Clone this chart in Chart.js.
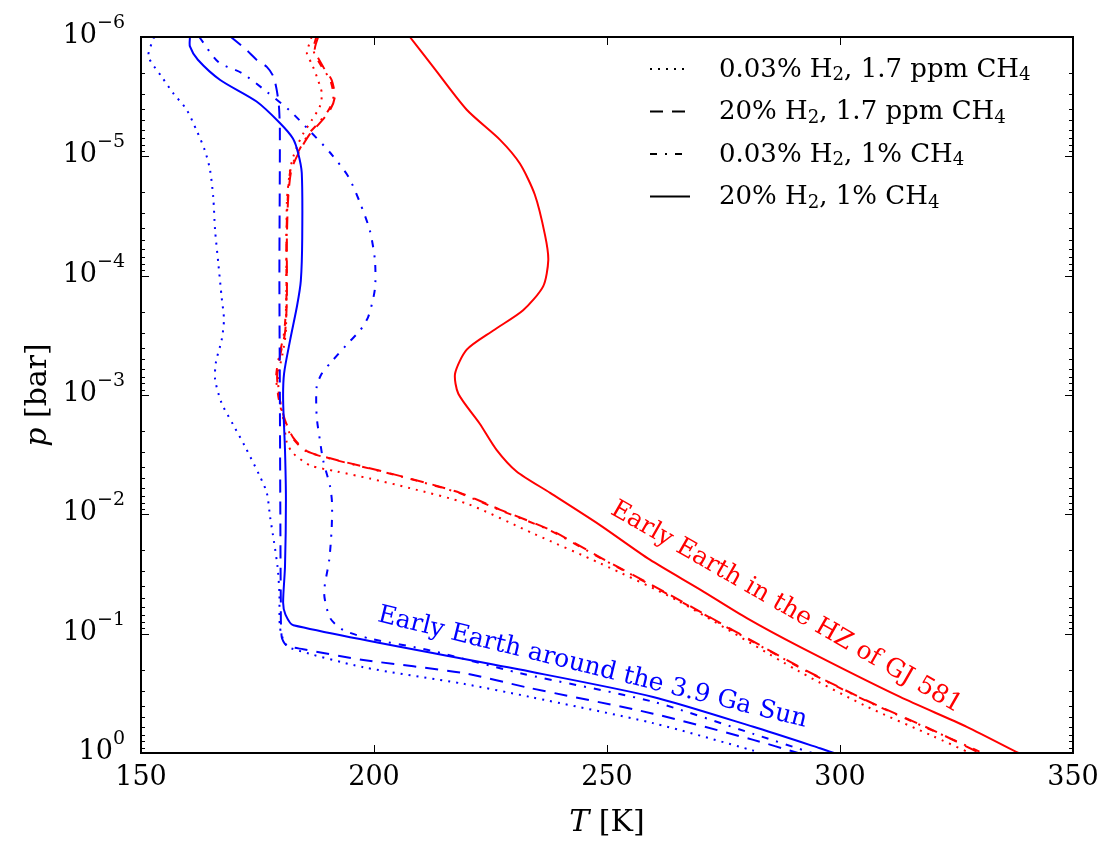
<!DOCTYPE html>
<html>
<head>
<meta charset="utf-8">
<title>Early Earth T-p profiles</title>
<script src="https://cdn.jsdelivr.net/npm/chart.js@4.4.1/dist/chart.umd.min.js"></script>
<style>
    html, body { margin: 0; padding: 0; background: #fff; }
    #plot { display: block; }
</style>
</head>
<body>
<canvas id="plot" width="1117" height="854"></canvas>
<script>
// Temperature (K) / pressure (bar) profiles

const xTickValues = [150, 200, 250, 300, 350];
const yTickExponents = [-6, -5, -4, -3, -2, -1, 0];

// Early Earth around the 3.9 Ga Sun (blue)
const sunDottedT = [152.8, 151.6, 154.4, 156.9, 159.8, 161.9, 163.7, 164.8, 165.5, 165.9, 166.6, 167.3, 167.8, 167.3, 166.1, 165.9, 167.3, 169.8, 172.3, 175.5, 177.0, 177.7, 178.5, 179.3, 179.7, 179.8, 180.7, 182.0, 197.7, 219.2, 233.5, 259.9, 281.4, 282.8];
const sunDottedP = [1.0e-6, 1.45e-6, 2.14e-6, 2.95e-6, 4.07e-6, 6.03e-6, 8.91e-6, 1.29e-5, 2.19e-5, 4.17e-5, 7.94e-5, 1.51e-4, 2.34e-4, 3.47e-4, 5.25e-4, 7.41e-4, 1.17e-3, 1.78e-3, 2.69e-3, 4.79e-3, 6.61e-3, 1.05e-2, 1.66e-2, 2.75e-2, 4.57e-2, 8.71e-2, 0.117, 0.132, 0.191, 0.263, 0.339, 0.562, 0.955, 1.0];

const sunDashedT = [169.3, 172.7, 174.8, 177.0, 178.4, 179.1, 179.6, 179.8, 179.7, 179.8, 179.9, 180.0, 180.2, 181.3, 184.8, 197.7, 219.2, 232.8, 259.9, 281.4, 291.0];
const sunDashedP = [1.0e-6, 1.29e-6, 1.55e-6, 1.78e-6, 2.14e-6, 2.75e-6, 3.80e-6, 6.03e-6, 1.0e-4, 1.0e-3, 1.0e-2, 5.01e-2, 0.107, 0.126, 0.135, 0.166, 0.214, 0.282, 0.468, 0.776, 1.0];

const sunDashDotT = [162.5, 166.6, 171.6, 177.0, 182.0, 186.3, 190.6, 194.5, 197.0, 199.1, 200.2, 200.2, 198.8, 197.0, 194.8, 190.9, 188.8, 187.7, 187.7, 188.4, 189.1, 190.6, 191.0, 190.9, 190.4, 189.3, 190.6, 193.4, 199.1, 212.0, 231.3, 259.9, 281.4, 294.0];
const sunDashDotP = [1.0e-6, 1.62e-6, 2.00e-6, 2.88e-6, 4.17e-6, 6.17e-6, 9.33e-6, 1.48e-5, 2.45e-5, 4.17e-5, 7.41e-5, 1.29e-4, 2.19e-4, 2.88e-4, 3.55e-4, 5.25e-4, 6.61e-4, 8.51e-4, 1.51e-3, 2.40e-3, 3.55e-3, 5.89e-3, 8.13e-3, 1.35e-2, 2.40e-2, 4.57e-2, 7.41e-2, 9.33e-2, 0.110, 0.138, 0.214, 0.372, 0.692, 1.0];

const sunSolidT = [160.5, 160.5, 162.2, 167.0, 174.8, 179.8, 182.6, 183.7, 184.5, 184.6, 184.3, 183.5, 182.0, 180.7, 180.5, 180.9, 181.1, 180.9, 180.5, 181.0, 182.7, 231.3, 259.9, 281.4, 295.7, 298.7];
const sunSolidP = [1.0e-6, 1.20e-6, 1.55e-6, 2.29e-6, 3.47e-6, 5.25e-6, 7.08e-6, 9.33e-6, 1.38e-5, 4.79e-5, 1.10e-4, 1.78e-4, 3.47e-4, 6.61e-4, 1.10e-3, 2.88e-3, 7.59e-3, 2.75e-2, 5.50e-2, 6.92e-2, 8.51e-2, 0.200, 0.339, 0.603, 0.912, 1.0];

// Early Earth in the HZ of GJ 581 (red)
const gjDottedT = [186.6, 185.6, 186.6, 187.7, 188.8, 188.4, 186.6, 184.8, 183.8, 182.7, 182.0, 181.3, 181.1, 180.4, 179.4, 179.8, 180.6, 181.3, 182.7, 186.3, 192.0, 199.1, 207.7, 219.9, 234.2, 248.5, 265.0, 291.4, 305.7, 320.0, 327.9];
const gjDottedP = [1.0e-6, 1.38e-6, 1.66e-6, 2.14e-6, 2.95e-6, 3.80e-6, 5.01e-6, 6.46e-6, 7.76e-6, 1.0e-5, 1.29e-5, 2.45e-5, 2.88e-4, 4.47e-4, 7.08e-4, 1.10e-3, 1.62e-3, 2.51e-3, 3.09e-3, 3.89e-3, 4.37e-3, 5.01e-3, 6.03e-3, 8.13e-3, 1.45e-2, 2.57e-2, 5.25e-2, 0.209, 0.407, 0.724, 1.0];

const gjDashedT = [188.0, 187.3, 189.1, 190.9, 191.6, 190.6, 188.4, 186.3, 184.1, 182.3, 181.6, 181.3, 181.3, 180.9, 179.8, 179.2, 179.8, 180.9, 182.7, 185.6, 190.6, 197.7, 207.7, 218.5, 227.0, 237.8, 248.5, 262.8, 291.4, 305.7, 320.0, 330.0];
const gjDashedP = [1.0e-6, 1.29e-6, 1.78e-6, 2.29e-6, 3.16e-6, 4.07e-6, 5.25e-6, 6.46e-6, 8.91e-6, 1.29e-5, 2.19e-5, 5.01e-5, 1.58e-4, 3.02e-4, 4.79e-4, 7.08e-4, 1.10e-3, 1.62e-3, 2.29e-3, 2.95e-3, 3.39e-3, 3.98e-3, 5.01e-3, 6.61e-3, 9.12e-3, 1.35e-2, 2.29e-2, 4.57e-2, 0.191, 0.363, 0.646, 1.0];

const gjDashDotT = [187.6, 187.0, 188.8, 190.6, 191.3, 190.3, 188.1, 186.0, 183.9, 182.1, 181.5, 181.2, 181.2, 180.7, 179.6, 179.0, 179.6, 180.7, 182.5, 185.4, 190.3, 197.4, 207.4, 218.2, 226.7, 237.5, 248.3, 262.6, 291.2, 305.5, 319.8, 330.6];
const gjDashDotP = [1.0e-6, 1.29e-6, 1.78e-6, 2.29e-6, 3.16e-6, 4.07e-6, 5.25e-6, 6.46e-6, 8.91e-6, 1.29e-5, 2.19e-5, 5.01e-5, 1.58e-4, 3.02e-4, 4.79e-4, 7.08e-4, 1.10e-3, 1.62e-3, 2.29e-3, 2.95e-3, 3.39e-3, 3.98e-3, 5.01e-3, 6.61e-3, 9.12e-3, 1.35e-2, 2.29e-2, 4.57e-2, 0.191, 0.363, 0.646, 1.0];

const gjSolidT = [207.7, 212.7, 219.9, 227.0, 231.3, 234.5, 236.7, 237.4, 236.3, 232.0, 225.6, 219.9, 217.4, 218.1, 222.7, 226.3, 230.6, 237.8, 248.5, 259.2, 270.0, 280.0, 291.4, 312.9, 327.2, 338.3];
const gjSolidP = [1.0e-6, 1.78e-6, 4.07e-6, 7.24e-6, 1.15e-5, 2.09e-5, 4.57e-5, 7.41e-5, 1.23e-4, 1.95e-4, 2.88e-4, 4.17e-4, 6.61e-4, 9.77e-4, 1.74e-3, 2.88e-3, 4.37e-3, 6.61e-3, 1.23e-2, 2.40e-2, 4.27e-2, 7.41e-2, 0.129, 0.339, 0.603, 1.0];

// legend entries: line style + label pieces ([text, subscript?])
const legendStyles = ['dotted', 'dashed', 'dashDot', 'solid'];
const legendLabels = [
    [['0.03% H', false], ['2', true], [', 1.7 ppm CH', false], ['4', true]],
    [['20% H', false], ['2', true], [', 1.7 ppm CH', false], ['4', true]],
    [['0.03% H', false], ['2', true], [', 1% CH', false], ['4', true]],
    [['20% H', false], ['2', true], [', 1% CH', false], ['4', true]]
];

const SERIF = '"DejaVu Serif", "Liberation Serif", serif';
const BLUE = '#0000ff';
const RED = '#ff0000';
const dashes = {
    dotted: [2, 6],
    dashed: [13, 9],
    dashDot: [7, 8, 2, 8],
    solid: []
};

function profile(T, P, color, style) {
    return {
        data: T.map((t, i) => ({ x: t, y: P[i] })),
        borderColor: color,
        borderWidth: 2,
        borderDash: dashes[style],
        borderCapStyle: 'butt',
        pointRadius: 0,
        showLine: true,
        fill: false,
        tension: 0.25
    };
}

// draws text with subscript / italic pieces, returns width
function drawPieces(ctx, pieces, x, y, size, draw) {
    let cx = x;
    pieces.forEach(([txt, sub, italic]) => {
        const s = sub ? size * 0.7 : size;
        ctx.font = (italic ? 'italic ' : '') + s + 'px ' + SERIF;
        if (draw) ctx.fillText(txt, cx, sub ? y + size * 0.22 : y);
        cx += ctx.measureText(txt).width;
    });
    return cx - x;
}

const decorations = {
    id: 'decorations',
    afterDraw(chart) {
        const { ctx, chartArea: a, scales: { x, y } } = chart;
        ctx.save();
        ctx.strokeStyle = '#000';
        ctx.fillStyle = '#000';

        const seg = (x1, y1, x2, y2) => {
            ctx.beginPath();
            ctx.moveTo(x1, y1);
            ctx.lineTo(x2, y2);
            ctx.stroke();
        };

        // inward tick marks
        ctx.lineWidth = 1;
        xTickValues.forEach(v => {
            const px = Math.round(x.getPixelForValue(v)) + 0.5;
            seg(px, a.bottom, px, a.bottom - 8);
            seg(px, a.top, px, a.top + 8);
        });
        yTickExponents.forEach(e => {
            const py = Math.round(y.getPixelForValue(Math.pow(10, e))) + 0.5;
            seg(a.left, py, a.left + 8, py);
            seg(a.right, py, a.right - 8, py);
            if (e < 0) {
                for (let m = 2; m <= 9; m++) {
                    const my = Math.round(y.getPixelForValue(m * Math.pow(10, e))) + 0.5;
                    seg(a.left, my, a.left + 4, my);
                    seg(a.right, my, a.right - 4, my);
                }
            }
        });

        // frame
        ctx.lineWidth = 2;
        ctx.strokeRect(a.left, a.top, a.right - a.left, a.bottom - a.top);

        // x tick labels
        ctx.font = '27px ' + SERIF;
        ctx.textAlign = 'center';
        ctx.textBaseline = 'top';
        xTickValues.forEach(v => {
            ctx.fillText(String(v), x.getPixelForValue(v), a.bottom + 11);
        });

        // y tick labels 10^n
        ctx.textBaseline = 'alphabetic';
        ctx.textAlign = 'right';
        yTickExponents.forEach(e => {
            const py = y.getPixelForValue(Math.pow(10, e));
            const sup = e < 0 ? '\u2212' + Math.abs(e) : String(e);
            ctx.font = '19px ' + SERIF;
            const supW = ctx.measureText(sup).width;
            ctx.fillText(sup, 125, py - 9);
            ctx.font = '27px ' + SERIF;
            ctx.fillText('10', 125 - supW, py + 6);
        });

        // axis titles
        ctx.textAlign = 'left';
        const xTitle = [['T', false, true], [' [K]', false, false]];
        const xw = drawPieces(ctx, xTitle, 0, 0, 30, false);
        drawPieces(ctx, xTitle, (a.left + a.right) / 2 - xw / 2, 831, 30, true);

        const yTitle = [['p', false, true], [' [bar]', false, false]];
        const yw = drawPieces(ctx, yTitle, 0, 0, 30, false);
        ctx.save();
        ctx.translate(46, (a.top + a.bottom) / 2);
        ctx.rotate(-Math.PI / 2);
        drawPieces(ctx, yTitle, -yw / 2, 0, 30, true);
        ctx.restore();

        // legend
        legendStyles.forEach((style, i) => {
            const ry = 69 + i * 42.5;
            ctx.lineWidth = 2;
            ctx.setLineDash(dashes[style]);
            seg(650, ry, 690, ry);
            ctx.setLineDash([]);
            ctx.textBaseline = 'middle';
            drawPieces(ctx, legendLabels[i], 719, ry + 1, 26, true);
        });

        // curve annotations
        ctx.textAlign = 'center';
        ctx.textBaseline = 'alphabetic';
        ctx.font = '25px ' + SERIF;
        ctx.fillStyle = BLUE;
        ctx.save();
        ctx.translate(591, 674);
        ctx.rotate(13.9 * Math.PI / 180);
        ctx.fillText('Early Earth around the 3.9 Ga Sun', 0, 0);
        ctx.restore();

        ctx.fillStyle = RED;
        ctx.save();
        ctx.translate(783, 613);
        ctx.rotate(29.9 * Math.PI / 180);
        ctx.fillText('Early Earth in the HZ of GJ 581', 0, 0);
        ctx.restore();

        ctx.restore();
    }
};

new Chart(document.getElementById('plot'), {
    type: 'scatter',
    data: {
        datasets: [
            profile(sunDottedT, sunDottedP, BLUE, 'dotted'),
            profile(sunDashedT, sunDashedP, BLUE, 'dashed'),
            profile(sunDashDotT, sunDashDotP, BLUE, 'dashDot'),
            profile(sunSolidT, sunSolidP, BLUE, 'solid'),
            profile(gjDottedT, gjDottedP, RED, 'dotted'),
            profile(gjDashedT, gjDashedP, RED, 'dashed'),
            profile(gjDashDotT, gjDashDotP, RED, 'dashDot'),
            profile(gjSolidT, gjSolidP, RED, 'solid')
        ]
    },
    options: {
        responsive: false,
        animation: false,
        devicePixelRatio: 1,
        layout: { padding: { top: 37, right: 44, left: 0, bottom: 0 } },
        plugins: {
            legend: { display: false },
            tooltip: { enabled: false }
        },
        scales: {
            x: {
                type: 'linear',
                min: 150,
                max: 350,
                grid: { display: false },
                border: { display: false },
                ticks: { display: false },
                afterFit: scale => { scale.height = 101; }
            },
            y: {
                type: 'logarithmic',
                reverse: true,
                min: 1e-6,
                max: 1,
                grid: { display: false },
                border: { display: false },
                ticks: { display: false },
                afterFit: scale => { scale.width = 141; }
            }
        }
    },
    plugins: [decorations]
});
</script>
</body>
</html>
